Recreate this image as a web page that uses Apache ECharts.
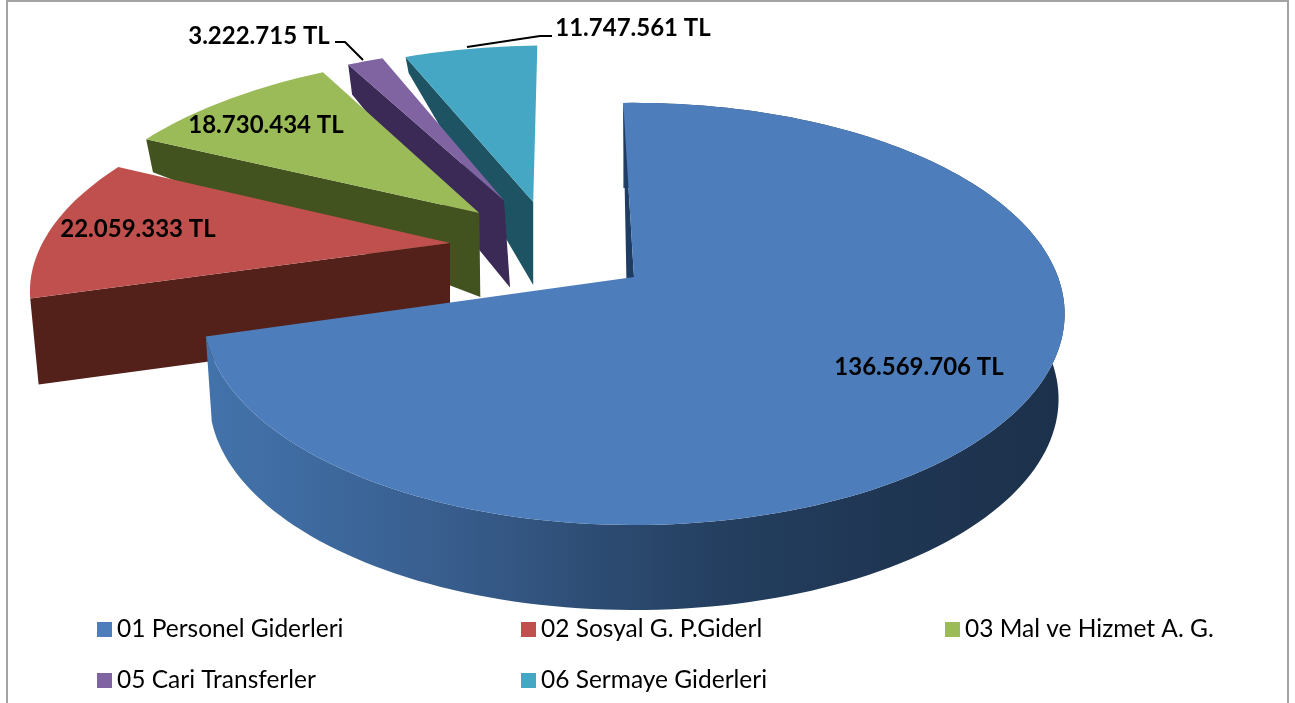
<!DOCTYPE html>
<html>
<head>
<meta charset="utf-8">
<title>Gider dagilimi</title>
<script src="https://cdn.jsdelivr.net/npm/echarts@6/dist/echarts.min.js"></script>
<style>
  html, body { margin: 0; padding: 0; background: #fff; }
  #chart { width: 1295px; height: 703px; }
</style>
</head>
<body>
<div id="chart"></div>
<script>
// data
const categories = ['01 Personel Giderleri', '02 Sosyal G. P.Giderl', '03 Mal ve Hizmet A. G.', '05 Cari Transferler', '06 Sermaye Giderleri'];
const values = [136569706, 22059333, 18730434, 3222715, 11747561];

// colours per slice: top face, wall
const topColors = ['#4d7ebb', '#c0504d', '#9bbb59', '#8064a2', '#45a7c4'];
const wallColors = ['#2f4f78', '#54201a', '#43531f', '#3a2a55', '#1d5363'];

// explosion of each slice on the pie plane, in pie radii (x right, y toward viewer)
const explodeU = [0, -0.447, -0.386, -0.328, -0.254];
const explodeV = [0, -0.171, -0.331, -0.4, -0.391];
const radiusScale = [1, 0.99, 1.015, 1, 1.02];
// wall height at the apex and at the far end of the cut, apex sideways shift
const depthApex = [85, 86, 84, 87, 83];
const depthFar = [17, 86, 33, 30, 16];
const apexShift = [-6, 0, 1, 6, 0];

// value labels: centre position and leader line
const labelX = [919, 138, 266, 259, 633];
const labelY = [367, 229, 125, 36, 28];
const leaders = [null, null, null, [[335, 42], [345, 42], [363, 60]], [[552, 36], [540, 36], [467, 47]]];

// perspective of the pie plane
const cx = 634;
const cy = 277;
const scaleX = 424;
const scaleY = 204.6;
const persp = 0.175;
const startDeg = -1.7;
const vanishX = 630;
const shrink = 0.014;
const FONT = 'Lato, Carlito, "Open Sans", sans-serif';

const total = values.reduce((a, b) => a + b, 0);
function project(u, v) {
  const d = 1 - persp * v;
  return [cx + scaleX * u / d, cy + scaleY * v / d];
}
function fmt(n) {
  return String(n).replace(/\B(?=(\d{3})+$)/g, '.') + ' TL';
}
function sliceAngles(i) {
  let before = 0;
  for (let k = 0; k < i; k++) before += values[k];
  return [startDeg + before / total * 360, startDeg + (before + values[i]) / total * 360];
}

function renderSlice(params, api) {
  const i = params.seriesIndex === undefined ? 0 : values.length - 1 - params.seriesIndex;
  const [a0, a1] = sliceAngles(i);
  const r = radiusScale[i];
  const rim = [];
  const steps = Math.max(4, Math.round((a1 - a0) / 1.5));
  for (let s = 0; s <= steps; s++) {
    const a = (a0 + (a1 - a0) * s / steps) * Math.PI / 180;
    rim.push(project(explodeU[i] + r * Math.sin(a), explodeV[i] - r * Math.cos(a)));
  }
  const apex = project(explodeU[i], explodeV[i]);
  const down = (p, h) => [p[0] - (p[0] - vanishX) * shrink, p[1] + h];
  const children = [];
  const wall = i === 0
    ? new echarts.graphic.LinearGradient(204, 0, 1063, 0, [
        { offset: 0, color: '#4373ab' },
        { offset: 0.1, color: '#3f6ca2' },
        { offset: 0.3, color: '#375c8b' },
        { offset: 0.48, color: '#2c4a70' },
        { offset: 0.6, color: '#243f60' },
        { offset: 0.8, color: '#1f3653' },
        { offset: 1, color: '#1c314b' }
      ], true)
    : wallColors[i];

  // rim wall only shows on the big slice
  if (i === 0) {
    const bottom = rim.map(p => down([p[0], p[1]], depthApex[i])).reverse();
    children.push({ type: 'polygon', shape: { points: rim.concat(bottom) }, style: { fill: wall } });
  }
  // cut wall at the start of the slice
  const far = rim[0];
  const farLow = down(far, depthFar[i]);
  const apexLow = [apex[0] + apexShift[i], apex[1] + depthApex[i]];
  children.push({
    type: 'polygon',
    shape: { points: [far, apex, apexLow, farLow] },
    style: { fill: i === 0 ? '#1f3c63' : wall }
  });
  // top face
  children.push({
    type: 'polygon',
    shape: { points: [apex].concat(rim) },
    style: { fill: topColors[i] }
  });
  if (leaders[i]) {
    children.push({
      type: 'polyline',
      shape: { points: leaders[i] },
      style: { stroke: '#000', lineWidth: 2, fill: null }
    });
  }
  children.push({
    type: 'text',
    style: {
      text: fmt(api.value(0)),
      x: labelX[i],
      y: labelY[i],
      align: 'center',
      verticalAlign: 'middle',
      fill: '#000',
      font: 'bold 24px ' + FONT
    }
  });
  return { type: 'group', children };
}

// far slices first so the near ones cover them
const series = categories.map((name, i) => ({
  type: 'custom',
  name,
  coordinateSystem: 'none',
  silent: true,
  itemStyle: { color: topColors[i] },
  data: [[values[i]]],
  renderItem: renderSlice
})).reverse();

const chart = echarts.init(document.getElementById('chart'));
chart.setOption({
  animation: false,
  backgroundColor: '#fff',
  legend: {
    data: categories,
    left: 97,
    top: 617,
    width: 1260,
    padding: 0,
    itemGap: 26,
    itemWidth: 15,
    itemHeight: 15,
    icon: 'rect',
    selectedMode: false,
    textStyle: {
      color: '#000',
      fontFamily: FONT,
      fontSize: 24.5,
      width: 378,
      lineHeight: 15
    }
  },
  graphic: [{
    type: 'rect',
    silent: true,
    z: 100,
    shape: { x: 7, y: 1, width: 1281, height: 720 },
    style: { fill: null, stroke: '#a3a3a3', lineWidth: 2 }
  }],
  series
});
</script>
</body>
</html>
